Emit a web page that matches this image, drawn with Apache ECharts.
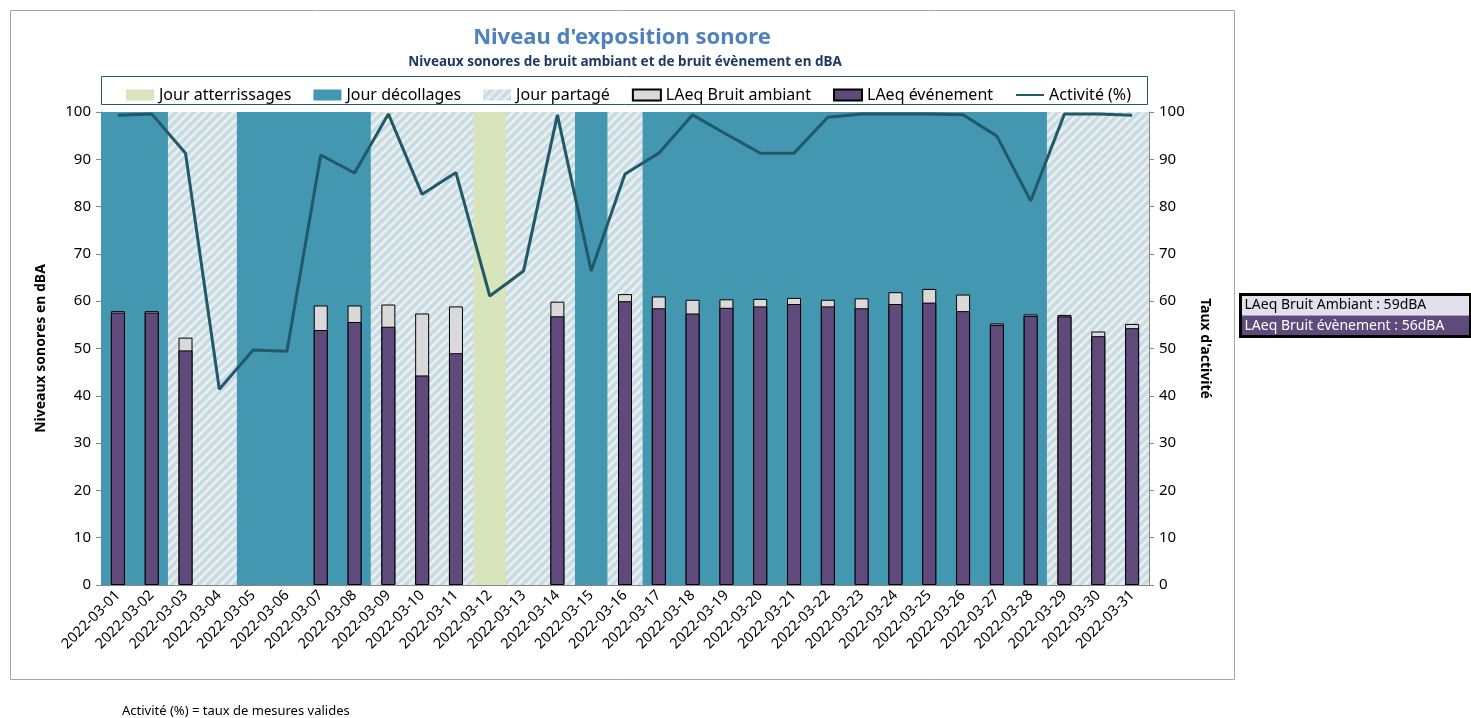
<!DOCTYPE html>
<html>
<head>
<meta charset="utf-8">
<script src="https://cdn.jsdelivr.net/npm/echarts@6/dist/echarts.min.js"></script>
<style>
  html, body { margin: 0; padding: 0; background: #fff; }
  #main { width: 1471px; height: 718px; }
</style>
</head>
<body>
<div id="main"></div>
<script>
// jours du mois
const categories = [
  '2022-03-01', '2022-03-02', '2022-03-03', '2022-03-04', '2022-03-05', '2022-03-06', '2022-03-07', '2022-03-08',
  '2022-03-09', '2022-03-10', '2022-03-11', '2022-03-12', '2022-03-13', '2022-03-14', '2022-03-15', '2022-03-16',
  '2022-03-17', '2022-03-18', '2022-03-19', '2022-03-20', '2022-03-21', '2022-03-22', '2022-03-23', '2022-03-24',
  '2022-03-25', '2022-03-26', '2022-03-27', '2022-03-28', '2022-03-29', '2022-03-30', '2022-03-31'
];
// A = atterrissages, D = décollages, P = partagé
const dayType = [
  'D', 'D', 'P', 'P', 'D', 'D', 'D', 'D', 'P', 'P', 'P', 'A', 'P', 'P', 'D', 'P',
  'D', 'D', 'D', 'D', 'D', 'D', 'D', 'D', 'D', 'D', 'D', 'D', 'P', 'P', 'P'
];
const laeqAmbient = [
  57.9, 57.9, 52.3, null, null, null, 59.1, 59.1, 59.3, 57.4, 58.9, null, null, 59.9, null, 61.5,
  61.0, 60.3, 60.4, 60.5, 60.7, 60.3, 60.6, 61.9, 62.6, 61.4, 55.3, 57.2, 57.1, 53.6, 55.2
];
const laeqEvent = [
  57.6, 57.6, 49.6, null, null, null, 53.9, 55.6, 54.6, 44.3, 49.0, null, null, 56.8, null, 60.0,
  58.5, 57.4, 58.6, 58.9, 59.4, 58.9, 58.5, 59.4, 59.7, 57.9, 55.0, 56.9, 56.8, 52.6, 54.3
];
const activity = [
  99.3, 99.6, 91.3, 41.4, 49.7, 49.4, 90.9, 87.1, 99.6, 82.6, 87.2, 61.1, 66.4, 99.4, 66.4, 86.9,
  91.3, 99.4, 95.3, 91.3, 91.3, 98.9, 99.6, 99.6, 99.6, 99.4, 94.9, 81.2, 99.6, 99.6, 99.3
];
const yTicks = [0, 100, 10];

const FONT = 'Noto Sans';

// motif hachuré pour "Jour partagé"
function makeHatch() {
  const s = 9;
  const c = document.createElement('canvas');
  c.width = s;
  c.height = s;
  const ctx = c.getContext('2d');
  ctx.fillStyle = '#EBF1DE';
  ctx.fillRect(0, 0, s, s);
  ctx.strokeStyle = '#C5D9F1';
  ctx.lineWidth = 3.4;
  ctx.beginPath();
  ctx.moveTo(-2, s + 2); ctx.lineTo(s + 2, -2);
  ctx.moveTo(-2, 2); ctx.lineTo(2, -2);
  ctx.moveTo(s - 2, s + 2); ctx.lineTo(s + 2, s - 2);
  ctx.stroke();
  return c;
}
const hatch = { image: makeHatch(), repeat: 'repeat' };

function bgData(type) {
  return dayType.map(t => (t === type ? 100 : '-'));
}
function bgSeries(name, type, color) {
  return {
    name: name,
    type: 'bar',
    xAxisIndex: 1,
    yAxisIndex: 0,
    barWidth: '104%',
    barGap: '-100%',
    barCategoryGap: '0%',
    z: 1,
    itemStyle: { color: color },
    data: bgData(type)
  };
}

const chart = echarts.init(document.getElementById('main'));

const option = {
  animation: false,
  textStyle: { fontFamily: FONT },
  grid: { left: 101, right: 322, top: 112, bottom: 133 },
  legend: {
    left: 121,
    top: 82,
    itemWidth: 28,
    itemHeight: 11,
    itemGap: 22,
    textStyle: { fontSize: 16, color: '#000', fontFamily: FONT },
    data: [
      { name: 'Jour atterrissages', icon: 'rect' },
      { name: 'Jour décollages', icon: 'rect' },
      { name: 'Jour partagé', icon: 'rect' },
      { name: 'LAeq Bruit ambiant', icon: 'rect' },
      { name: 'LAeq événement', icon: 'rect' },
      { name: 'Activité (%)', itemStyle: { opacity: 0 } }
    ]
  },
  xAxis: [
    {
      type: 'category',
      data: categories,
      axisLine: { lineStyle: { color: '#868686' } },
      axisTick: { alignWithLabel: false, length: 5, lineStyle: { color: '#868686' } },
      axisLabel: { rotate: 45, fontSize: 14.5, color: '#000', margin: 8, interval: 0 }
    },
    {
      type: 'category',
      data: categories,
      show: false
    }
  ],
  yAxis: [
    {
      type: 'value',
      min: yTicks[0],
      max: yTicks[1],
      interval: yTicks[2],
      name: 'Niveaux sonores en dBA',
      nameLocation: 'middle',
      nameGap: 53,
      nameTextStyle: { fontSize: 14, fontWeight: 'bold', color: '#000' },
      axisLine: { show: true, lineStyle: { color: '#868686' } },
      axisTick: { show: true, length: 5, lineStyle: { color: '#868686' } },
      axisLabel: { fontSize: 15, color: '#000', margin: 10 },
      splitLine: { show: false }
    },
    {
      type: 'value',
      min: yTicks[0],
      max: yTicks[1],
      interval: yTicks[2],
      name: "Taux d'activité",
      nameLocation: 'middle',
      nameRotate: -90,
      nameGap: 49,
      nameTextStyle: { fontSize: 14, fontWeight: 'bold', color: '#000' },
      axisLine: { show: true, lineStyle: { color: '#868686' } },
      axisTick: { show: true, length: 5, lineStyle: { color: '#868686' } },
      axisLabel: { fontSize: 15, color: '#000', margin: 10 },
      splitLine: { show: false }
    }
  ],
  series: [
    bgSeries('Jour atterrissages', 'A', '#D8E4BC'),
    bgSeries('Jour décollages', 'D', '#4397B0'),
    bgSeries('Jour partagé', 'P', hatch),
    {
      name: 'LAeq Bruit ambiant',
      type: 'bar',
      xAxisIndex: 0,
      yAxisIndex: 0,
      barWidth: 14,
      barGap: '-100%',
      z: 3,
      itemStyle: { color: '#D9D9D9', borderColor: '#000', borderWidth: 1 },
      data: laeqAmbient.map(v => (v == null ? '-' : v))
    },
    {
      name: 'LAeq événement',
      type: 'bar',
      xAxisIndex: 0,
      yAxisIndex: 0,
      barWidth: 14,
      barGap: '-100%',
      z: 4,
      itemStyle: { color: '#604A7B', borderColor: '#000', borderWidth: 1 },
      data: laeqEvent.map(v => (v == null ? '-' : v))
    },
    {
      name: 'Activité (%)',
      type: 'line',
      xAxisIndex: 0,
      yAxisIndex: 1,
      z: 6,
      symbol: 'none',
      lineStyle: { color: '#215968', width: 3 },
      itemStyle: { color: '#215968' },
      data: activity
    }
  ],
  graphic: [
    // cadre du graphique
    {
      type: 'rect',
      z: -10,
      shape: { x: 10.5, y: 10.5, width: 1224, height: 669 },
      style: { fill: '#fff', stroke: '#A6A6A6', lineWidth: 1 }
    },
    // cadre de la légende
    {
      type: 'rect',
      z: -5,
      shape: { x: 101.5, y: 76.5, width: 1046, height: 28 },
      style: { fill: '#fff', stroke: '#215968', lineWidth: 1 }
    },
    {
      type: 'text',
      style: {
        text: "Niveau d'exposition sonore",
        x: 622, y: 38,
        textAlign: 'center', textVerticalAlign: 'middle',
        font: 'bold 22px "Noto Sans"', fill: '#4F81BD'
      }
    },
    {
      type: 'text',
      style: {
        text: 'Niveaux sonores de bruit ambiant et de bruit évènement en dBA',
        x: 625, y: 62,
        textAlign: 'center', textVerticalAlign: 'middle',
        font: 'bold 13.5px "Noto Sans"', fill: '#1F3864'
      }
    },
    {
      type: 'text',
      style: {
        text: 'Activité (%) = taux de mesures valides',
        x: 122, y: 711,
        textAlign: 'left', textVerticalAlign: 'middle',
        font: '13px "Noto Sans"', fill: '#000'
      }
    },
    // encadré des moyennes
    {
      type: 'group',
      left: 1238,
      top: 292,
      children: [
        { type: 'rect', shape: { x: 0, y: 0, width: 232, height: 22 }, style: { fill: '#E4DFEC' } },
        { type: 'rect', shape: { x: 0, y: 22, width: 232, height: 22 }, style: { fill: '#604A7B' } },
        { type: 'rect', shape: { x: 1, y: 1, width: 230, height: 42 }, style: { fill: 'none', stroke: '#000', lineWidth: 3 } },
        {
          type: 'text',
          style: { text: 'LAeq Bruit Ambiant : 59dBA', x: 5, y: 12, textVerticalAlign: 'middle', font: '14px "Noto Sans"', fill: '#000' }
        },
        {
          type: 'text',
          style: { text: 'LAeq Bruit évènement : 56dBA', x: 5, y: 33, textVerticalAlign: 'middle', font: '14px "Noto Sans"', fill: '#fff' }
        }
      ]
    }
  ]
};

chart.setOption(option);
</script>
</body>
</html>
